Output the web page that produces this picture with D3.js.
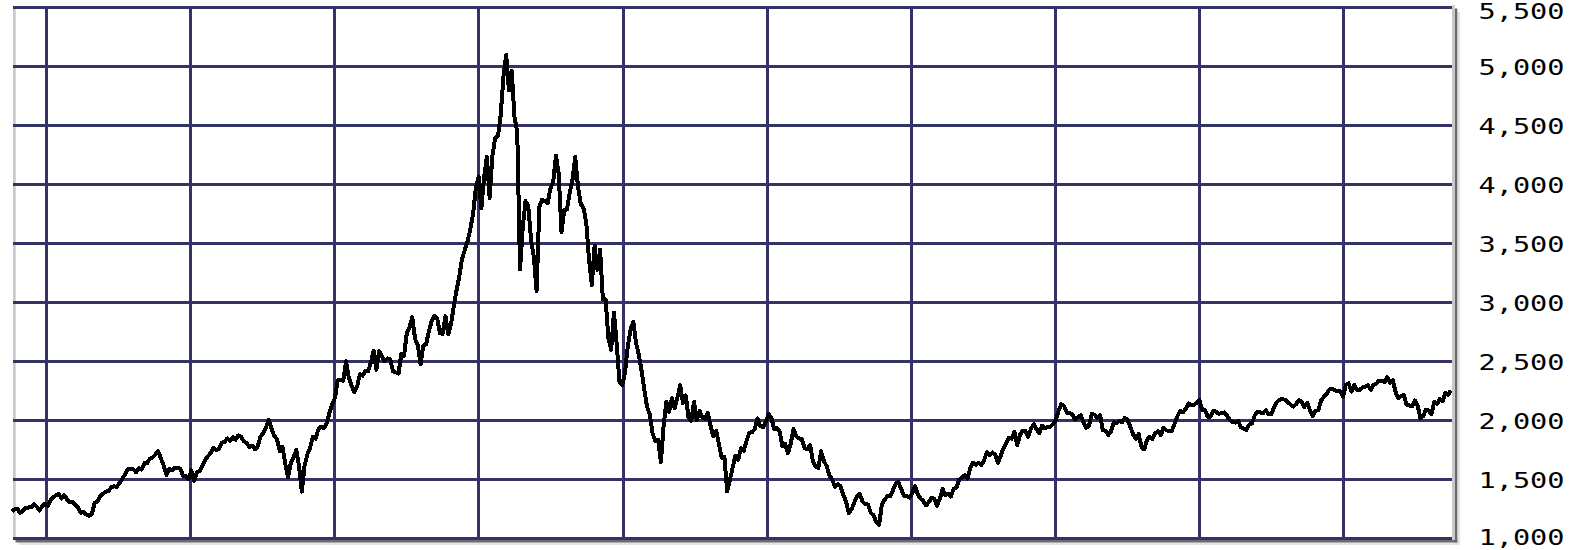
<!DOCTYPE html>
<html><head><meta charset="utf-8">
<script src="https://cdn.jsdelivr.net/npm/d3@7"></script>
<style>html,body{margin:0;padding:0;background:#fff;overflow:hidden}</style>
</head><body><svg id="c" width="1575" height="550"></svg>
<script>
// Weekly closes (Fridays), first week 1996-10-04
const startYear = 1996, startMonth = 9, startDay = 4;
const v1996 = [1230,1250,1255,1219,1236,1262,1265,1268,1293,1274,1240,1278,1296];
const v1997 = [1280,1326,1352,1370,1380, 1340,1370,1335,1309, 1315,1287,1262,1221, 1228,1205,1195,1212,
  1305,1318,1360,1381,1400, 1405,1436,1446,1439, 1474,1504,1548,1590, 1593,1590,1562,1600,1587,
  1640,1640,1680,1690, 1715,1740,1680,1620,1540, 1593,1580,1600,1600, 1595,1535,1530,1505];
const v1998 = [1581,1490,1565,1575,1619, 1670,1700,1727,1771, 1750,1765,1815,1820, 1850,1830,1860,1839,
  1876,1865,1827,1812,1778, 1790,1758,1780,1862, 1895,1940,2009,1935,1872, 1846,1744,1781,1639,
  1520,1641,1690,1753, 1614,1400,1620,1715,1771, 1865,1847,1929,1950, 1937,1979,2068,2138];
const v1999 = [2193,2344,2348,2338,2505, 2367,2300,2240,2288, 2393,2381,2421,2419, 2493,2593,2431,2591,2542,
  2503,2528,2520,2420, 2410,2400,2563,2552, 2741,2793,2878,2693,2638, 2480,2637,2648,2758,
  2843,2887,2869,2740, 2737,2886,2731,2817,2967, 3102,3221,3370,3447, 3521,3621,3754,3969,4069];
const v2000 = [3800,4064,4235,3887, 4244,4395,4411,4590, 4914,5100,4798,4963,4573, 4446,3280,3643,3860,
  3817,3529,3390,3100, 3813,3874,3860,3845,3966, 4023,4246,4095,3600, 3787,3789,3930,4042,
  4234,3979,3835,3803,3673, 3361,3150,3483,3278, 3451,3028,3028,2700, 2600,2917,2653,2330,2300];
const v2001 = [2407,2626,2770,2840, 2660,2560,2425,2262, 2117,2052,1890,1830,1840, 1650,1961,2163,2075,
  2192,2107,2198,2300, 2149,2215,2028,2000,2160, 2004,2084,2029,2015, 2066,1956,1867,1916,1805,
  1687,1695,1400,1499, 1605,1703,1671,1768, 1746,1828,1898,1903,1930, 2021,1953,1945,1987];
const v2002 = [2059,2022,1930,1937, 1911,1782,1805,1724, 1802,1929,1868,1851,1845, 1770,1757,1796,1663,
  1613,1600,1741,1661,1616, 1535,1505,1440,1463, 1448,1374,1319,1220, 1247,1306,1361,1380,1315,
  1295,1291,1221,1199, 1139,1120,1287,1331, 1360,1359,1411,1468,1479, 1422,1362,1363,1348];
const v2003 = [1387,1448,1376,1342,1320, 1283,1310,1349,1337, 1280,1340,1421,1369, 1383,1358,1425,1434,
  1502,1520,1538,1510,1596, 1646,1627,1645,1625, 1663,1733,1707,1731, 1715,1644,1702,1765,1810,
  1858,1848,1905,1792, 1880,1915,1912,1865,1932, 1970,1930,1893,1960, 1937,1949,1951,1974];
const v2004 = [2006,2086,2140,2124,2066, 2064,2053,2010,2030, 2047,1984,1940,1960, 2057,2052,2025,2049,1920,
  1917,1880,1912,1987, 1978,1999,1987,2025, 2006,1946,1883,1849,1887, 1777,1757,1838,1862,
  1845,1894,1910,1879, 1942,1919,1911,1915,1975, 2038,2085,2070,2101, 2147,2129,2135,2154,2175];
const v2005 = [2088,2088,2034,2035, 2086,2076,2058,2065, 2071,2041,2008,1990, 1984,1999,1946,1932,1922,
  1967,1977,2046,2075, 2071,2063,2090,2053, 2057,2112,2156,2179,2185, 2177,2157,2136,2120,
  2141,2175,2161,2117,2152, 2090,2040,2082,2090, 2169,2203,2227,2263, 2273,2257,2253,2250,2205];
const v2006 = [2305,2317,2247,2305, 2262,2261,2282,2287, 2302,2262,2306,2313,2340, 2339,2326,2370,2323,
  2342,2243,2193,2210, 2219,2135,2130,2121,2172, 2130,2020,2039,2094, 2085,2057,2163,2141,
  2184,2165,2235,2218,2258];

const yTicks = [1000,1500,2000,2500,3000,3500,4000,4500,5000,5500];
const gridYears = [1997,1998,1999,2000,2001,2002,2003,2004,2005,2006];

const values = [].concat(v1996,v1997,v1998,v1999,v2000,v2001,v2002,v2003,v2004,v2005,v2006);
const start = new Date(startYear, startMonth, startDay);
const data = values.map((v,i)=>({date: d3.timeDay.offset(start, 7*i), value: v}));

const W = 1575, H = 550;
const svg = d3.select("#c");
const L = 13, R = 1452;
const x = d3.scaleTime().domain([new Date(1996,9,7), new Date(2006,9,2)]).range([L, R]);
const y = d3.scaleLinear().domain([1000,5500]).range([538.8, 7.6]);
const navy = "#333366";

// bevel / shadow frame
svg.append("rect").attr("x",19).attr("y",542.5).attr("width",1460-19).attr("height",2.5).attr("fill","#e4e4e4");
svg.append("rect").attr("x",1457.3).attr("y",12).attr("width",2.7).attr("height",533).attr("fill","#e4e4e4");
svg.append("rect").attr("x",15.5).attr("y",539.8).attr("width",1457.3-15.5).attr("height",2.7).attr("fill","#6b6b6b");
svg.append("rect").attr("x",1454.6).attr("y",8.5).attr("width",2.7).attr("height",534).attr("fill","#6b6b6b");
svg.append("rect").attr("x",L).attr("y",8).attr("width",2.7).attr("height",531).attr("fill","#c8c8c8");
svg.append("rect").attr("x",R).attr("y",5).attr("width",2.6).attr("height",535).attr("fill","#c8c8c8");

const g = svg.append("g").attr("shape-rendering","crispEdges");
g.selectAll("line.h").data(yTicks).join("line").attr("class","h")
  .attr("x1",L).attr("x2",R).attr("y1",d=>y(d)).attr("y2",d=>y(d))
  .attr("stroke",navy).attr("stroke-width",3);
g.selectAll("line.v").data(gridYears).join("line").attr("class","v")
  .attr("x1",d=>x(new Date(d,0,1))).attr("x2",d=>x(new Date(d,0,1)))
  .attr("y1",y(5500)-1.5).attr("y2",y(1000))
  .attr("stroke",navy).attr("stroke-width",3);

const line = d3.line().x(d=>x(d.date)).y(d=>y(d.value));
svg.append("path").datum(data).attr("d",line)
  .attr("fill","none").attr("stroke","#000").attr("stroke-width",4)
  .attr("stroke-linejoin","round").attr("shape-rendering","crispEdges");

const fmt = d3.format(",");
const fs = 20.5;
svg.selectAll("text.yl").data(yTicks).join("text").attr("class","yl")
  .attr("x",1478.5)
  .attr("y",d=>Math.min(H - 0.26*fs, Math.max(0.93*fs, y(d)+8.5)))
  .attr("font-family","'DejaVu Sans Mono', monospace").attr("font-size",fs+"px")
  .attr("fill","#000")
  .attr("textLength",86).attr("lengthAdjust","spacingAndGlyphs")
  .text(d=>fmt(d));
</script></body></html>
